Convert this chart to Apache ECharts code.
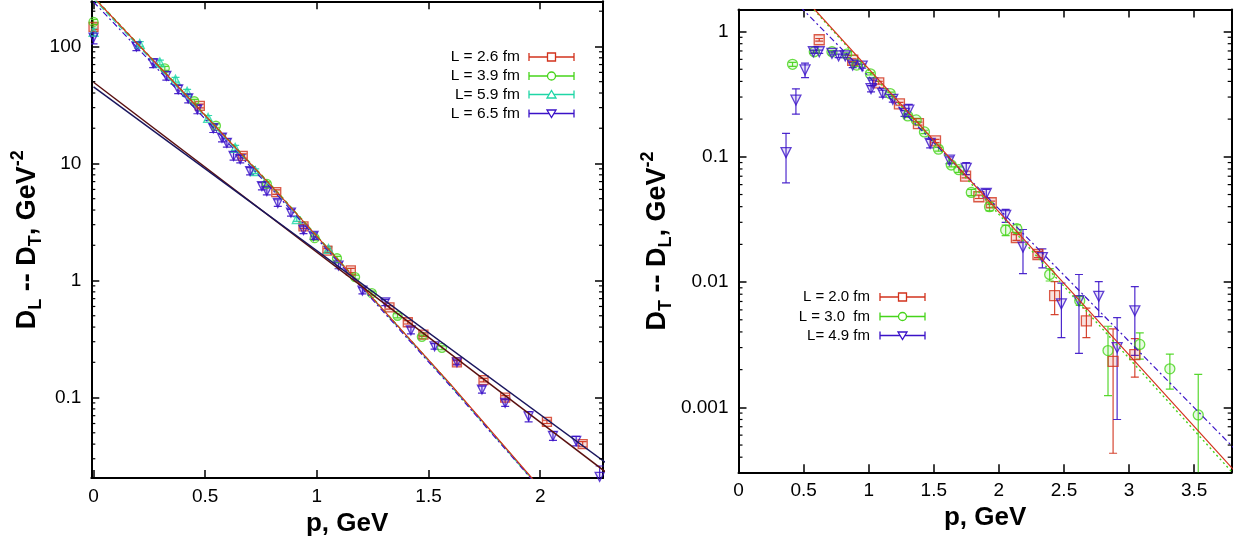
<!DOCTYPE html>
<html><head><meta charset="utf-8">
<script src="https://cdn.jsdelivr.net/npm/echarts@6/dist/echarts.min.js"></script>
<style>html,body{margin:0;padding:0;background:#fff}#c{width:1235px;height:542px}</style>
</head><body><div id="c"></div>
<script>
// ---------------- LEFT PANEL DATA (D_L - D_T) ----------------
const leftRed_p   = [0.0, 0.476, 0.668, 0.818, 0.94, 1.047, 1.152, 1.325, 1.407, 1.477, 1.627, 1.746, 1.843, 2.03, 2.19];
const leftRed_D   = [147, 31, 11.6, 5.7, 2.9, 1.8, 1.22, 0.59, 0.44, 0.345, 0.20, 0.141, 0.100, 0.062, 0.040];
const leftRed_err = [8, 1.2, 0.5, 0.25, 0.12, 0.07, 0.05, 0.02, 0.015, 0.012, 0.007, 0.005, 0.004, 0.002, 0.002];

const leftGreen_p   = [0.0, 0.319, 0.451, 0.548, 0.776, 0.99, 1.09, 1.171, 1.246, 1.361, 1.47, 1.56];
const leftGreen_D   = [162, 65, 34, 21, 6.7, 2.3, 1.55, 1.07, 0.78, 0.50, 0.33, 0.266];
const leftGreen_err = [8, 2.5, 1.3, 0.8, 0.25, 0.09, 0.06, 0.04, 0.03, 0.02, 0.012, 0.01];

const leftCyan_p   = [0.0, 0.207, 0.297, 0.367, 0.419, 0.513, 0.634, 0.724, 0.91, 1.052];
const leftCyan_D   = [133, 105, 73, 52, 41, 24.5, 13.6, 8.6, 3.35, 1.86];
const leftCyan_err = [10, 5, 3.5, 2.5, 2, 1.2, 0.7, 0.4, 0.15, 0.08];

const leftBlue_p   = [0.0, 0.192, 0.267, 0.326, 0.379, 0.424, 0.465, 0.536, 0.575, 0.597, 0.627, 0.657, 0.701, 0.754, 0.776, 0.825, 0.884, 0.94, 0.985, 1.097, 1.204, 1.306, 1.421, 1.527, 1.627, 1.739, 1.843, 1.948, 2.057, 2.161, 2.266];
const leftBlue_D   = [119, 100, 72, 56, 43, 36, 29, 20, 16.6, 15, 11.6, 10.9, 8.6, 6.4, 5.8, 4.6, 3.8, 2.7, 2.4, 1.34, 0.82, 0.65, 0.375, 0.274, 0.20, 0.117, 0.09, 0.069, 0.047, 0.0426, 0.021];
const leftBlue_err = [14, 8, 6, 4.5, 3.5, 3, 2.4, 1.6, 1.3, 1.2, 0.9, 0.8, 0.6, 0.45, 0.4, 0.3, 0.25, 0.18, 0.15, 0.08, 0.05, 0.04, 0.025, 0.015, 0.01, 0.008, 0.006, 0.007, 0.004, 0.004, 0.005];

// fit curves, left panel
const leftSteep_p      = [0, 0.4, 0.8, 1.2, 1.6, 2.0];
const leftSteepRed_D   = [263, 41, 6.3, 0.90, 0.129, 0.0170];
const leftSteepGreen_D = [266, 41.5, 6.4, 0.91, 0.128, 0.0168];
const leftSteepCyan_D  = [255, 40, 6.2, 0.89, 0.126, 0.0166];
const leftSteepBlue_D  = [240, 38, 6.0, 0.87, 0.124, 0.0165];
const leftShallow_p     = [0, 2.3];
const leftShallowBrown_D = [49.4, 0.0226];
const leftShallowNavy_D  = [45.1, 0.0272];

const leftLegend = ['L = 2.6 fm', 'L = 3.9 fm', 'L= 5.9 fm', 'L = 6.5 fm'];

// ---------------- RIGHT PANEL DATA (D_T - D_L) ----------------
const rightRed_p   = [0.62, 0.877, 1.077, 1.236, 1.382, 1.513, 1.744, 1.846, 1.941, 2.134, 2.3, 2.428, 2.672, 2.877, 3.044];
const rightRed_D   = [0.86, 0.59, 0.39, 0.265, 0.184, 0.134, 0.070, 0.048, 0.043, 0.0227, 0.0166, 0.0078, 0.0049, 0.00233, 0.00264];
const rightRed_err = [0.02, 0.015, 0.01, 0.007, 0.005, 0.004, 0.002, 0.0015, 0.0013, 0.0012, 0.0009, 0.0023, 0.0013, 0.0019, 0.0009];

const rightGreen_p   = [0.415, 0.582, 0.718, 0.831, 0.908, 1.013, 1.165, 1.3, 1.365, 1.428, 1.536, 1.634, 1.692, 1.788, 1.928, 2.052, 2.138, 2.39, 2.621, 2.838, 3.082, 3.313, 3.531];
const rightGreen_D   = [0.548, 0.69, 0.69, 0.66, 0.54, 0.46, 0.32, 0.212, 0.197, 0.158, 0.115, 0.086, 0.079, 0.052, 0.040, 0.026, 0.0267, 0.0115, 0.0071, 0.00284, 0.00318, 0.00203, 0.00087];
const rightGreen_err = [0.02, 0.015, 0.015, 0.015, 0.012, 0.01, 0.008, 0.006, 0.006, 0.005, 0.004, 0.003, 0.004, 0.003, 0.003, 0.0025, 0.002, 0.0013, 0.0006, 0.0016, 0.00075, 0.00063, 0.00096];

const rightBlue_p   = [0.365, 0.441, 0.511, 0.575, 0.62, 0.718, 0.769, 0.82, 0.877, 0.95, 1.018, 1.03, 1.108, 1.185, 1.275, 1.308, 1.472, 1.62, 1.749, 1.903, 2.052, 2.185, 2.334, 2.48, 2.615, 2.767, 2.908, 3.044];
const rightBlue_D   = [0.108, 0.284, 0.494, 0.69, 0.69, 0.67, 0.64, 0.64, 0.54, 0.53, 0.35, 0.39, 0.32, 0.288, 0.222, 0.236, 0.128, 0.094, 0.081, 0.051, 0.034, 0.019, 0.0157, 0.0067, 0.0071, 0.0077, 0.003, 0.0059];
const rightBlue_err = [0.046, 0.065, 0.065, 0.02, 0.02, 0.02, 0.02, 0.02, 0.025, 0.02, 0.02, 0.02, 0.02, 0.015, 0.012, 0.026, 0.01, 0.006, 0.009, 0.004, 0.004, 0.0073, 0.0027, 0.0031, 0.0044, 0.0024, 0.0022, 0.0033];

const rightFit_p      = [0.4, 3.8];
const rightFitRed_D   = [2.44, 0.00032];
const rightFitGreen_D = [2.40, 0.000296];
const rightFitBlue_D  = [1.89, 0.000479];

const rightLegend = ['L = 2.0 fm', 'L = 3.0  fm', 'L= 4.9 fm'];

// ---------------- STYLE ----------------
const FONT = '"Liberation Sans", Arial, Helvetica, sans-serif';
const RED = '#d2321c', GREEN = '#46d41a', CYAN = '#1fd6a6', BLUE = '#3a12c8', BROWN = '#5a1010', NAVY = '#1a165e';
const FILL = {}; FILL[RED] = 'rgba(210,50,28,0.18)'; FILL[GREEN] = 'rgba(70,212,26,0.15)'; FILL[CYAN] = 'rgba(31,214,166,0.18)'; FILL[BLUE] = 'rgba(58,18,200,0.15)';

const zip = (p, d) => p.map((x, i) => [x, d[i]]);
const zip3 = (p, d, e) => p.map((x, i) => [x, d[i], e[i]]);

function errRender(color, cap) {
  return function (params, api) {
    const x = api.value(0), y = api.value(1), e = api.value(2);
    const lo = Math.max(y - e, 1e-8), hi = y + e;
    const a = api.coord([x, lo]), b = api.coord([x, hi]);
    const st = { stroke: color, lineWidth: 1.2, opacity: 0.9 };
    return { type: 'group', children: [
      { type: 'line', shape: { x1: a[0], y1: a[1], x2: b[0], y2: b[1] }, style: st },
      { type: 'line', shape: { x1: a[0] - cap, y1: a[1], x2: a[0] + cap, y2: a[1] }, style: st },
      { type: 'line', shape: { x1: b[0] - cap, y1: b[1], x2: b[0] + cap, y2: b[1] }, style: st }
    ] };
  };
}
function minorRender(len) {
  return function (params, api) {
    const cs = params.coordSys;
    const y = api.coord([api.value(0), api.value(1)])[1];
    const st = { stroke: '#000', lineWidth: 1.2 };
    return { type: 'group', children: [
      { type: 'line', shape: { x1: cs.x, y1: y, x2: cs.x + len, y2: y }, style: st },
      { type: 'line', shape: { x1: cs.x + cs.width - len, y1: y, x2: cs.x + cs.width, y2: y }, style: st }
    ] };
  };
}
function minorValues(kmin, kmax, lo, hi, x0) {
  const out = [];
  for (let k = kmin; k <= kmax; k++) for (let m = 2; m <= 9; m++) {
    const v = m * Math.pow(10, k);
    if (v > lo && v < hi) out.push([x0, v]);
  }
  return out;
}

const L = { xmin: -0.01, xmax: 2.281, ymin: 0.0205, ymax: 243 };
const R = { xmin: 0, xmax: 3.788, ymin: 0.000303, ymax: 1.5 };

const logFmt = v => { const l = Math.log10(v); if (Math.abs(l - Math.round(l)) > 1e-6) return ''; return String(+Number(v).toPrecision(6)); };
const xFmt = v => (Math.abs(v * 2 - Math.round(v * 2)) < 1e-6 ? String(+Number(v).toFixed(2)) : '');

const tickStyle = { show: true, inside: true, length: 8, lineStyle: { color: '#000', width: 1.5 } };
const lineStyleAxis = { show: true, onZero: false, lineStyle: { color: '#000', width: 2 } };
const lblStyle = { color: '#000', fontSize: 19, fontFamily: FONT };

function xAx(grid, pos, lim, main, extra) {
  return Object.assign({
    type: 'value', gridIndex: grid, position: pos, min: lim.xmin, max: lim.xmax,
    axisLine: lineStyleAxis, axisTick: tickStyle, splitLine: { show: false },
    axisLabel: main ? Object.assign({ formatter: xFmt, margin: 9 }, lblStyle) : { show: false }
  }, extra || {});
}
function yAx(grid, pos, lim, main, extra) {
  return Object.assign({
    type: 'log', logBase: 10, gridIndex: grid, position: pos, min: lim.ymin, max: lim.ymax,
    axisLine: lineStyleAxis, axisTick: tickStyle, splitLine: { show: false }, minorTick: { show: false },
    axisLabel: main ? Object.assign({ formatter: logFmt, margin: 10 }, lblStyle) : { show: false }
  }, extra || {});
}
const xName = { name: 'p, GeV', nameLocation: 'middle', nameTextStyle: { fontSize: 26, fontWeight: 'bold', color: '#000', fontFamily: FONT } };
const richY = {
  b: { fontSize: 27, fontWeight: 'bold', color: '#000', fontFamily: FONT, lineHeight: 36, verticalAlign: 'middle' },
  s: { fontSize: 18, fontWeight: 'bold', color: '#000', fontFamily: FONT, lineHeight: 18, verticalAlign: 'bottom' },
  p: { fontSize: 18, fontWeight: 'bold', color: '#000', fontFamily: FONT, lineHeight: 18, verticalAlign: 'top' }
};
function yName(a, b, gap) {
  return { name: '{b|D}{s|' + a + '}{b| -- D}{s|' + b + '}{b|, GeV}{p|-2}', nameLocation: 'middle', nameGap: gap, nameRotate: 90,
    nameTextStyle: { rich: richY, fontSize: 27, fontWeight: 'bold', fontFamily: FONT, color: '#000' } };
}

const series = [];
function addData(grid, p, d, e, color, symbol, rot, size) {
  series.push({ type: 'custom', xAxisIndex: grid * 2, yAxisIndex: grid * 2, renderItem: errRender(color, 4), data: zip3(p, d, e), encode: { x: 0, y: 1 }, clip: true, silent: true, z: 2 });
  series.push({ type: 'scatter', xAxisIndex: grid * 2, yAxisIndex: grid * 2, data: zip(p, d), symbol: symbol, symbolRotate: rot, symbolSize: size, silent: true, z: 3,
    itemStyle: { color: FILL[color], borderColor: color, borderWidth: 1.3 } });
}
function addLine(grid, p, d, color, type, width, z) {
  series.push({ type: 'line', xAxisIndex: grid * 2, yAxisIndex: grid * 2, data: zip(p, d), symbol: 'none', showSymbol: false, silent: true, z: z || 4, clip: true,
    lineStyle: { color: color, width: width || 1.2, type: type } });
}

addData(0, leftRed_p, leftRed_D, leftRed_err, RED, 'rect', 0, 9);
addData(0, leftGreen_p, leftGreen_D, leftGreen_err, GREEN, 'circle', 0, 9);
addData(0, leftCyan_p, leftCyan_D, leftCyan_err, CYAN, 'triangle', 0, 9);
addData(0, leftBlue_p, leftBlue_D, leftBlue_err, BLUE, 'triangle', 180, 9);
addLine(0, leftSteep_p, leftSteepGreen_D, GREEN, [4, 3], 1.2, 4);
addLine(0, leftSteep_p, leftSteepCyan_D, CYAN, [6, 3], 1.2, 4);
addLine(0, leftSteep_p, leftSteepBlue_D, BLUE, [6, 3, 2, 3], 1.2, 4);
addLine(0, leftSteep_p, leftSteepRed_D, RED, 'solid', 1.2, 5);
addLine(0, leftShallow_p, leftShallowBrown_D, BROWN, 'solid', 1.5, 5);
addLine(0, leftShallow_p, leftShallowNavy_D, NAVY, 'solid', 1.5, 5);

addData(1, rightRed_p, rightRed_D, rightRed_err, RED, 'rect', 0, 10);
addData(1, rightGreen_p, rightGreen_D, rightGreen_err, GREEN, 'circle', 0, 10);
addData(1, rightBlue_p, rightBlue_D, rightBlue_err, BLUE, 'triangle', 180, 10);
addLine(1, rightFit_p, rightFitGreen_D, GREEN, [2, 3], 1.4, 4);
addLine(1, rightFit_p, rightFitBlue_D, BLUE, [6, 3, 2, 3], 1.2, 4);
addLine(1, rightFit_p, rightFitRed_D, RED, 'solid', 1.2, 5);

series.push({ type: 'custom', xAxisIndex: 0, yAxisIndex: 0, renderItem: minorRender(4), data: minorValues(-2, 2, L.ymin, L.ymax, 0.5), encode: { x: 0, y: 1 }, silent: true, z: 6 });
series.push({ type: 'custom', xAxisIndex: 2, yAxisIndex: 2, renderItem: minorRender(4), data: minorValues(-4, 0, R.ymin, R.ymax, 1), encode: { x: 0, y: 1 }, silent: true, z: 6 });

// legends as graphic elements
function legendEls(labels, colors, symbols, textX, lineX1, lineX2, ys, fs) {
  const els = [];
  labels.forEach((t, i) => {
    const y = ys[i], c = colors[i], cx = (lineX1 + lineX2) / 2;
    els.push({ type: 'text', x: textX, y: y, style: { text: t, fill: '#000', font: fs + 'px ' + FONT, textAlign: 'right', textVerticalAlign: 'middle' } });
    const st = { stroke: c, lineWidth: 1.3, fill: 'none' };
    els.push({ type: 'line', shape: { x1: lineX1, y1: y, x2: lineX2, y2: y }, style: st });
    els.push({ type: 'line', shape: { x1: lineX1, y1: y - 4, x2: lineX1, y2: y + 4 }, style: st });
    els.push({ type: 'line', shape: { x1: lineX2, y1: y - 4, x2: lineX2, y2: y + 4 }, style: st });
    const sf = { stroke: c, lineWidth: 1.3, fill: '#fff' };
    if (symbols[i] === 'rect') els.push({ type: 'rect', shape: { x: cx - 4, y: y - 4, width: 8, height: 8 }, style: sf });
    else if (symbols[i] === 'circle') els.push({ type: 'circle', shape: { cx: cx, cy: y, r: 4 }, style: sf });
    else if (symbols[i] === 'up') els.push({ type: 'polygon', shape: { points: [[cx - 4.5, y + 3.5], [cx + 4.5, y + 3.5], [cx, y - 4]] }, style: sf });
    else els.push({ type: 'polygon', shape: { points: [[cx - 4.5, y - 3.5], [cx + 4.5, y - 3.5], [cx, y + 4]] }, style: sf });
  });
  return els;
}
const graphics = [].concat(
  legendEls(leftLegend, [RED, GREEN, CYAN, BLUE], ['rect', 'circle', 'up', 'down'], 520, 529, 574, [57, 76, 94.5, 113.5], 15.5),
  legendEls(rightLegend, [RED, GREEN, BLUE], ['rect', 'circle', 'down'], 870, 880, 925, [297, 316.5, 335.5], 15)
);

const chart = echarts.init(document.getElementById('c'), null, { renderer: 'canvas' });
chart.setOption({
  animation: false,
  backgroundColor: '#fff',
  grid: [
    { left: 91.3, top: 1.3, width: 511.7, height: 478.7, containLabel: false },
    { left: 738.5, top: 9.5, width: 493.2, height: 462.8, containLabel: false }
  ],
  xAxis: [
    xAx(0, 'bottom', L, true, Object.assign({ nameGap: 27 }, xName)),
    xAx(0, 'top', L, false),
    xAx(1, 'bottom', R, true, Object.assign({ interval: 0.5, nameGap: 28 }, xName)),
    xAx(1, 'top', R, false, { interval: 0.5 })
  ],
  yAxis: [
    yAx(0, 'left', L, true, yName('L', 'T', 46)),
    yAx(0, 'right', L, false),
    yAx(1, 'left', R, true, yName('T', 'L', 63)),
    yAx(1, 'right', R, false)
  ],
  series: series,
  graphic: graphics
});
</script></body></html>
